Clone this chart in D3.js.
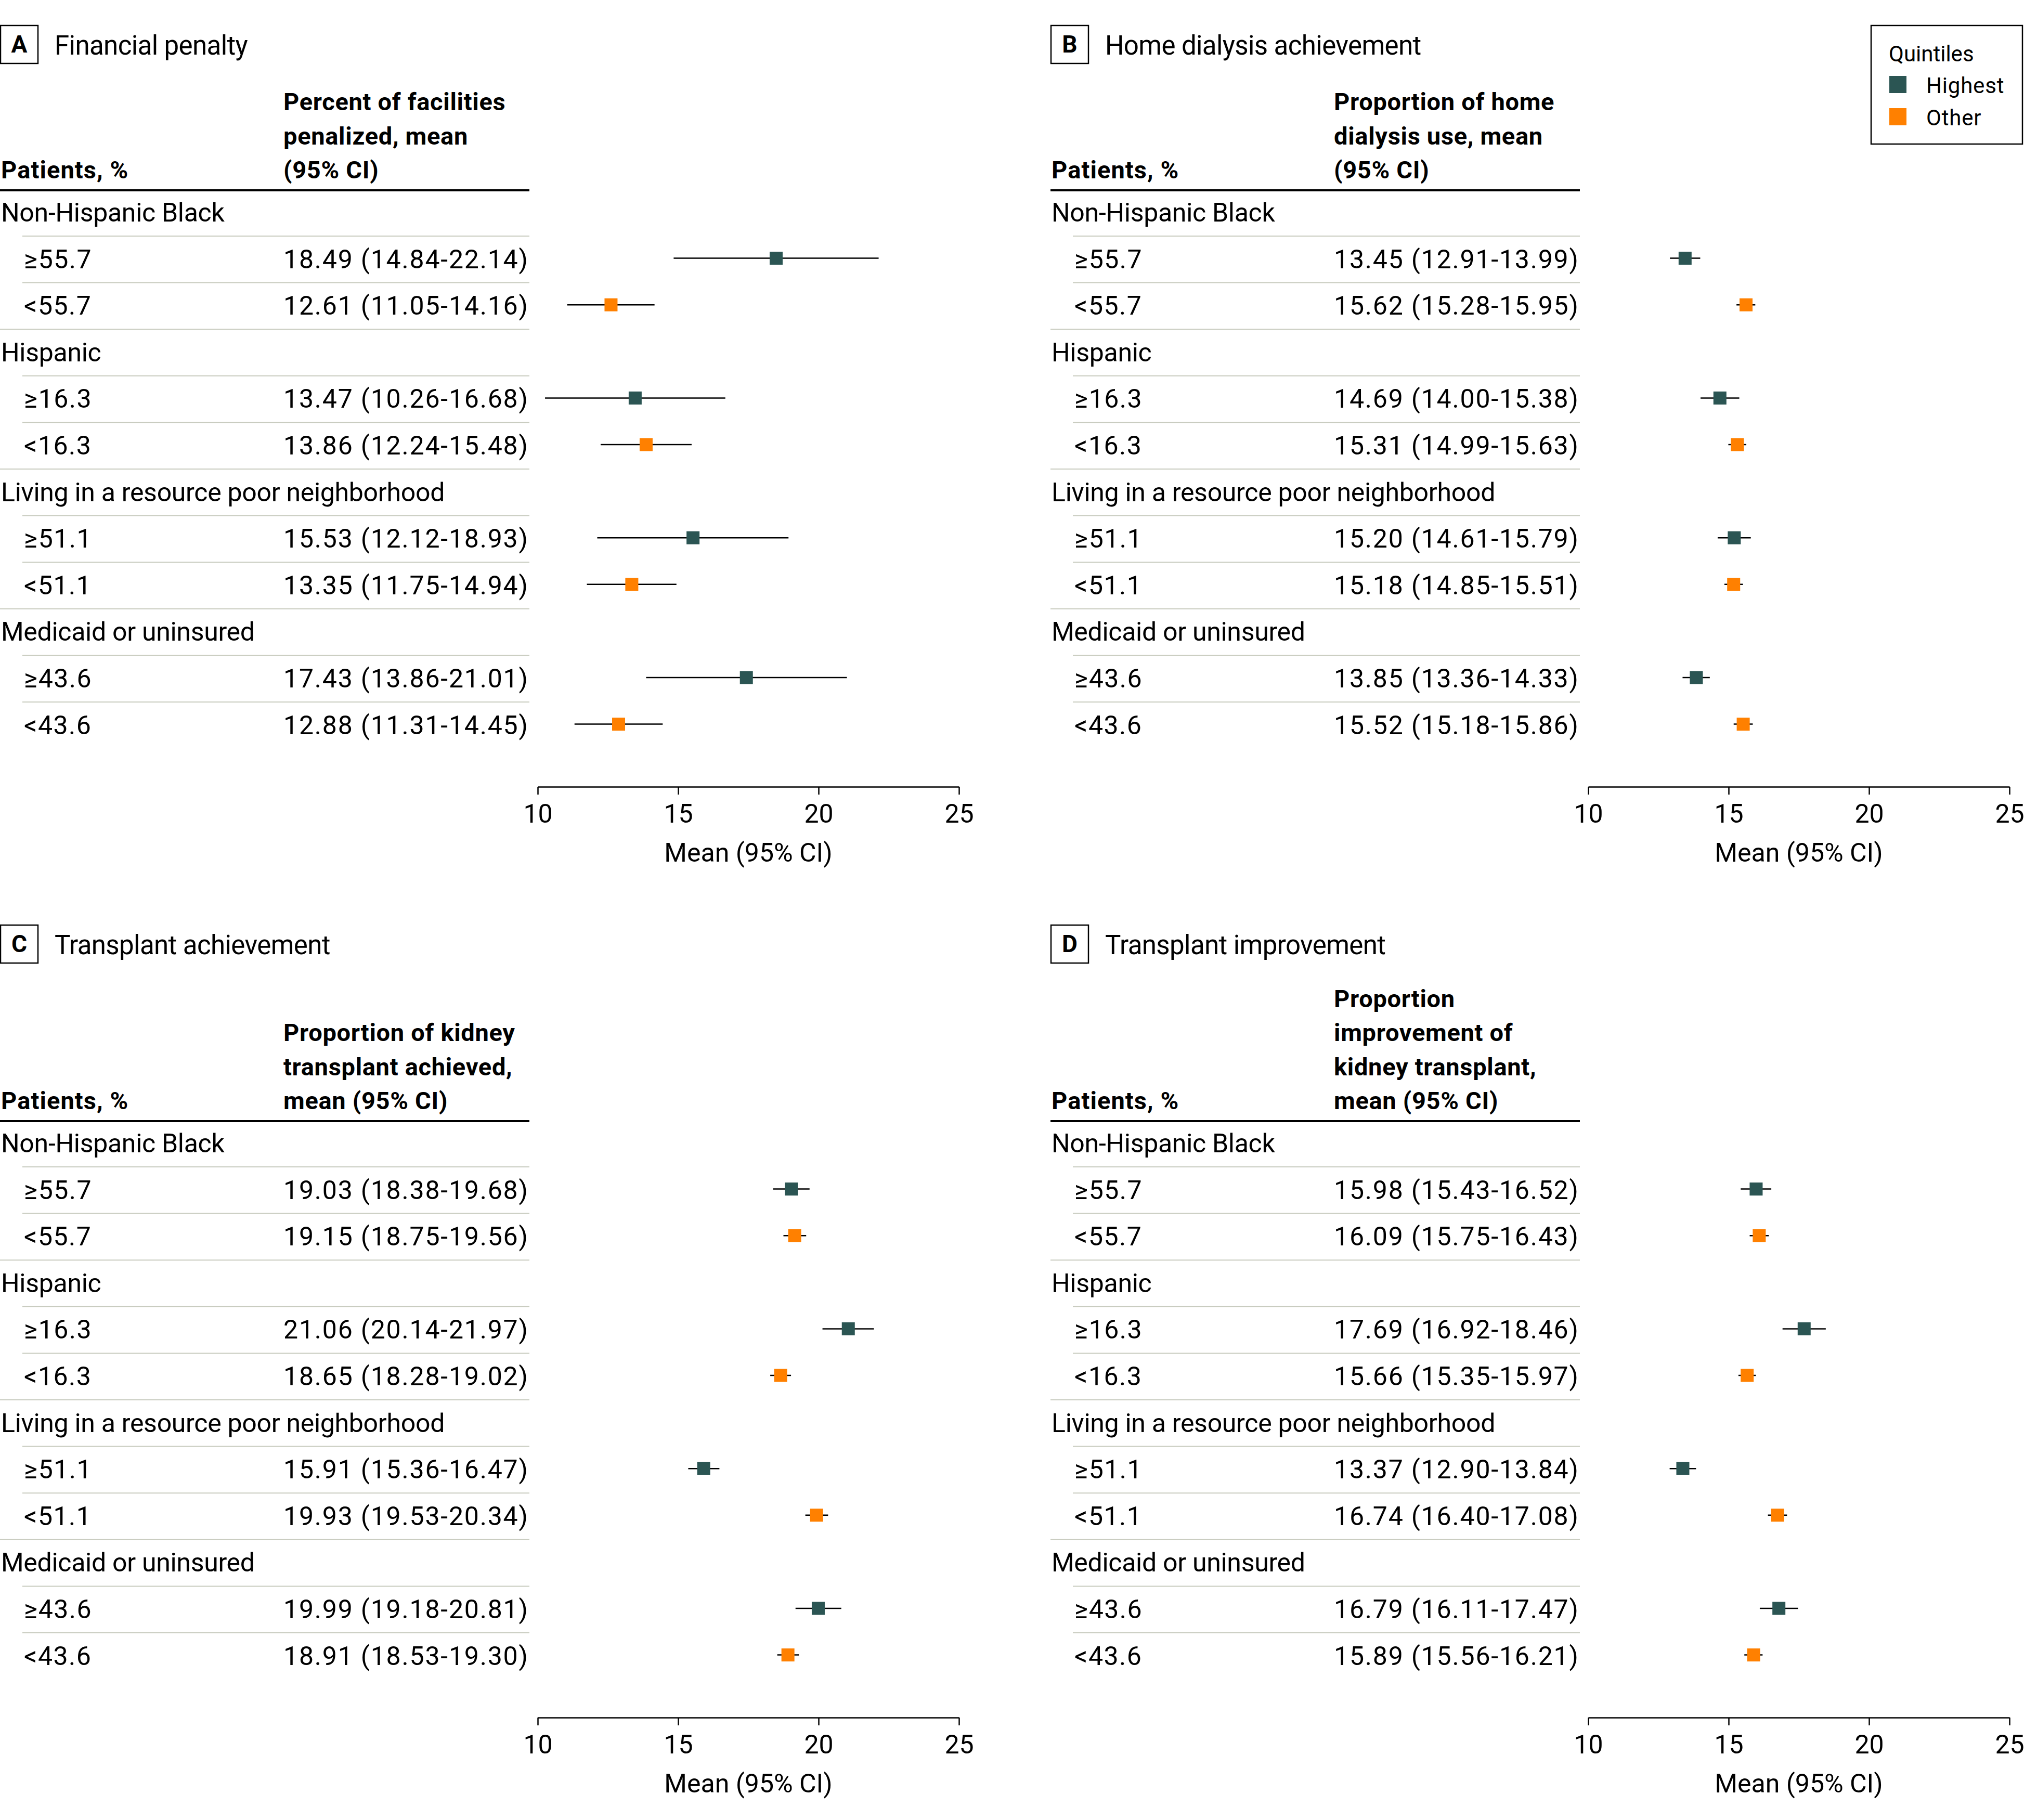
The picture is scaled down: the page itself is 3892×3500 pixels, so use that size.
<!DOCTYPE html>
<html>
<head>
<meta charset="utf-8">
<script src="https://cdn.jsdelivr.net/npm/d3@7"></script>
<style>
  html, body { margin: 0; padding: 0; background: #fff; }
  svg { display: block; }
  text { font-family: Roboto, "Liberation Sans", Arial, sans-serif; fill: #000; }
</style>
</head>
<body>
<script>
// ---------------- DATA ----------------
const groups = ["Non-Hispanic Black", "Hispanic", "Living in a resource poor neighborhood", "Medicaid or uninsured"];
const subgroups = [["≥55.7", "<55.7"], ["≥16.3", "<16.3"], ["≥51.1", "<51.1"], ["≥43.6", "<43.6"]];
const quintiles = ["Highest", "Other"];

const panelLetters = ["A", "B", "C", "D"];
const panelTitles = ["Financial penalty", "Home dialysis achievement", "Transplant achievement", "Transplant improvement"];
const panelHeaders = [
  ["Percent of facilities", "penalized, mean", "(95% CI)"],
  ["Proportion of home", "dialysis use, mean", "(95% CI)"],
  ["Proportion of kidney", "transplant achieved,", "mean (95% CI)"],
  ["Proportion", "improvement of", "kidney transplant,", "mean (95% CI)"]
];

// rows in order: group1 high, group1 other, group2 high, ...
const penaltyMean = [18.49, 12.61, 13.47, 13.86, 15.53, 13.35, 17.43, 12.88];
const penaltyLow  = [14.84, 11.05, 10.26, 12.24, 12.12, 11.75, 13.86, 11.31];
const penaltyHigh = [22.14, 14.16, 16.68, 15.48, 18.93, 14.94, 21.01, 14.45];

const homeMean = [13.45, 15.62, 14.69, 15.31, 15.20, 15.18, 13.85, 15.52];
const homeLow  = [12.91, 15.28, 14.00, 14.99, 14.61, 14.85, 13.36, 15.18];
const homeHigh = [13.99, 15.95, 15.38, 15.63, 15.79, 15.51, 14.33, 15.86];

const txAchMean = [19.03, 19.15, 21.06, 18.65, 15.91, 19.93, 19.99, 18.91];
const txAchLow  = [18.38, 18.75, 20.14, 18.28, 15.36, 19.53, 19.18, 18.53];
const txAchHigh = [19.68, 19.56, 21.97, 19.02, 16.47, 20.34, 20.81, 19.30];

const txImpMean = [15.98, 16.09, 17.69, 15.66, 13.37, 16.74, 16.79, 15.89];
const txImpLow  = [15.43, 15.75, 16.92, 15.35, 12.90, 16.40, 16.11, 15.56];
const txImpHigh = [16.52, 16.43, 18.46, 15.97, 13.84, 17.08, 17.47, 16.21];

const axisTicks = [10, 15, 20, 25];
const axisDomain = [10, 25];
const axisTitle = "Mean (95% CI)";
const colHeaderLeft = "Patients, %";
const legendTitle = "Quintiles";

const panelData = [
  [penaltyMean, penaltyLow, penaltyHigh],
  [homeMean, homeLow, homeHigh],
  [txAchMean, txAchLow, txAchHigh],
  [txImpMean, txImpLow, txImpHigh]
];

// ---------------- LAYOUT ----------------
const W = 3892, H = 3500;
const colors = { Highest: "#2b5553", Other: "#ff8000" };
const panelX = [0, 2020, 0, 2020];
const titleY = [0, 0, 1730, 1730];
const tableY = [0, 0, 1790, 1790];

const svg = d3.select("body").append("svg").attr("width", W).attr("height", H);

const BODY = 50, HEAD = 47, TITLE = 51;

// row baseline scale (12 rows: group label + 2 subrows each)
const rowY = d3.scaleLinear().domain([0, 11]).range([426, 426 + 11 * 89.6]);

panelLetters.forEach((L, p) => {
  const [means, lows, highs] = panelData[p];
  const gT = svg.append("g").attr("transform", `translate(${panelX[p]},${titleY[p]})`);
  // panel letter box
  gT.append("rect").attr("x", 1).attr("y", 49).attr("width", 72).attr("height", 73)
    .attr("fill", "none").attr("stroke", "#000").attr("stroke-width", 2.5);
  gT.append("text").attr("x", 37).attr("y", 101).attr("text-anchor", "middle")
    .attr("font-size", 46).attr("font-weight", 700).text(L);
  gT.append("text").attr("x", 105).attr("y", 105).attr("font-size", TITLE)
    .attr("letter-spacing", -0.6).text(panelTitles[p]);

  const g = svg.append("g").attr("transform", `translate(${panelX[p]},${tableY[p]})`);
  // header
  g.append("text").attr("x", 2).attr("y", 343).attr("font-size", HEAD).attr("font-weight", 700)
    .attr("letter-spacing", 1.1).text(colHeaderLeft);
  const hdr = panelHeaders[p];
  hdr.forEach((line, i) => {
    g.append("text").attr("x", 545).attr("y", 343 - (hdr.length - 1 - i) * 65.5)
      .attr("font-size", HEAD).attr("font-weight", 700).attr("letter-spacing", 0.7).text(line);
  });
  g.append("line").attr("x1", 0).attr("x2", 1018).attr("y1", 366).attr("y2", 366)
    .attr("stroke", "#000").attr("stroke-width", 4);

  // x scale
  const x = d3.scaleLinear().domain(axisDomain).range([1034, 1844]);

  groups.forEach((gName, gi) => {
    const r0 = gi * 3;
    g.append("text").attr("x", 2).attr("y", rowY(r0)).attr("font-size", BODY)
      .attr("letter-spacing", -0.3).text(gName);
    // separators
    const seps = [r0, r0 + 1];
    if (gi < groups.length - 1) seps.push(r0 + 2);
    seps.forEach((r, si) => {
      g.append("line").attr("x1", si === 2 ? 0 : 43).attr("x2", 1018)
        .attr("y1", rowY(r) + 28).attr("y2", rowY(r) + 28)
        .attr("stroke", "#c9ccc0").attr("stroke-width", 2);
    });
    subgroups[gi].forEach((sName, si) => {
      const idx = gi * 2 + si;
      const yb = rowY(r0 + 1 + si);
      const yc = yb - 19;
      g.append("text").attr("x", 46).attr("y", yb).attr("font-size", BODY)
        .attr("letter-spacing", 1.5).text(sName);
      g.append("text").attr("x", 545).attr("y", yb).attr("font-size", BODY)
        .attr("letter-spacing", 1.8)
        .text(`${means[idx].toFixed(2)} (${lows[idx].toFixed(2)}-${highs[idx].toFixed(2)})`);
      g.append("line").attr("x1", x(lows[idx])).attr("x2", x(highs[idx]))
        .attr("y1", yc).attr("y2", yc).attr("stroke", "#000").attr("stroke-width", 2.5);
      g.append("rect").attr("x", x(means[idx]) - 12.5).attr("y", yc - 12.5)
        .attr("width", 25).attr("height", 25).attr("fill", colors[quintiles[si]]);
    });
  });

  // axis
  const axG = g.append("g").attr("transform", "translate(0,1513)")
    .call(d3.axisBottom(x).tickValues(axisTicks).tickSize(15).tickSizeOuter(0).tickFormat(d3.format("d")));
  axG.select(".domain").attr("stroke", "#000").attr("stroke-width", 2.5);
  axG.selectAll(".tick line").attr("stroke", "#000").attr("stroke-width", 2.5);
  axG.selectAll(".tick text").attr("y", 69).attr("dy", null)
    .attr("font-size", BODY).attr("font-family", null).attr("fill", "#000");
  axG.attr("font-family", null).attr("font-size", null);
  g.append("text").attr("x", (x.range()[0] + x.range()[1]) / 2).attr("y", 1657)
    .attr("text-anchor", "middle").attr("font-size", BODY).text(axisTitle);
});

// legend
const lg = svg.append("g");
lg.append("rect").attr("x", 3598).attr("y", 49).attr("width", 291).attr("height", 228)
  .attr("fill", "#fff").attr("stroke", "#000").attr("stroke-width", 2.5);
lg.append("text").attr("x", 3632).attr("y", 118).attr("font-size", 42).text(legendTitle);
quintiles.forEach((q, i) => {
  lg.append("rect").attr("x", 3633).attr("y", 146 + i * 62).attr("width", 33).attr("height", 33)
    .attr("fill", colors[q]);
  lg.append("text").attr("x", 3704).attr("y", 179 + i * 62).attr("font-size", 42)
    .attr("letter-spacing", 0.8).text(q);
});
</script>
</body>
</html>
